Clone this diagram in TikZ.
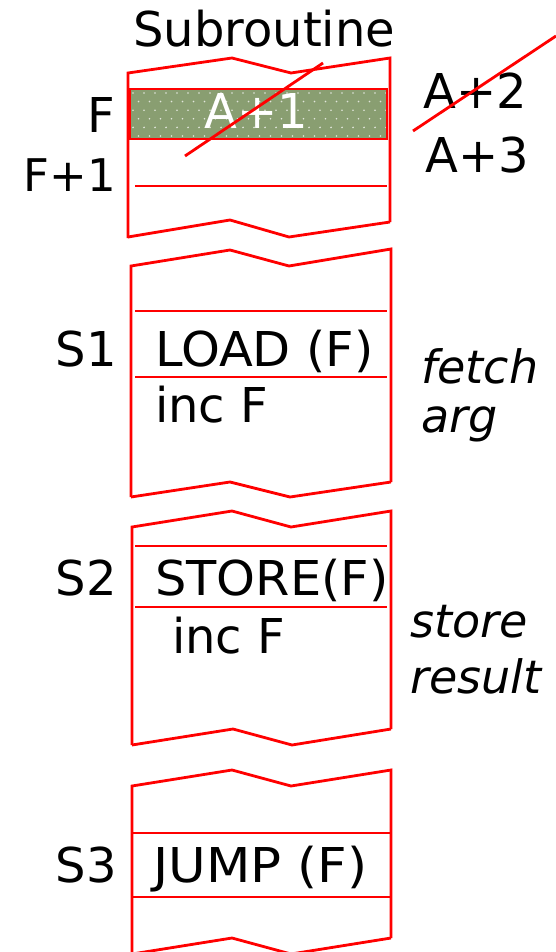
\documentclass[tikz,border=0pt]{standalone}
\usepackage{fontspec}
\setmainfont{DejaVu Sans}
\begin{document}
\begin{tikzpicture}[x=1pt,y=-1pt,
  redline/.style={draw=red,line width=2.8pt,line join=miter},
  txt/.style={inner sep=0pt,font=\fontsize{48}{57}\selectfont},
  wtxt/.style={inner sep=0pt,font=\fontsize{48}{57}\selectfont,xscale=1.03},
  itxt/.style={inner sep=0pt,font=\fontsize{46}{55}\selectfont\itshape}]
\definecolor{olive}{RGB}{137,158,113}
\useasboundingbox (0,0) rectangle (556,952);
% title
\node[txt,anchor=base west] (title) at (133,47) {Subroutine};
% block 1
\fill[olive] (130,89) rectangle (387,139);
\begin{scope}
\clip (130,89) rectangle (387,139);
\foreach \i in {0,...,24}{
  \foreach \j in {0,...,5}{
    \pgfmathsetmacro{\xx}{133+\i*11+mod(\j,2)*5.5}
    \pgfmathsetmacro{\yy}{93+\j*8.6}
    \fill[white,opacity=0.75] (\xx,\yy) circle (0.9);
  }
}
\end{scope}
\draw[redline] (130,89) rectangle (387,139);
\node[txt,anchor=base,text=white] (a1) at (256,129) {A+1};
\draw[redline] (128,238) -- (128,73) -- (232,58) -- (291,73) -- (390,58) -- (390,222);
\draw[redline] (128,237) -- (230,220) -- (289,237) -- (390,222);
\draw[redline] (135,186) -- (387,186);
\node[txt,anchor=base east] (F) at (115,133) {F};
\node[inner sep=0pt,font=\fontsize{45}{54}\selectfont,anchor=base east] (F1) at (116,191) {F+1};
\node[txt,anchor=base west] (a2) at (423,109) {A+2};
\node[txt,anchor=base west] (a3) at (425,172) {A+3};
\draw[redline] (185,156) -- (323,63);
\draw[redline] (413,131) -- (556,36);
% block 2
\draw[redline] (131,497) -- (131,266) -- (230,250) -- (289,266) -- (391,249) -- (391,482);
\draw[redline] (131,497) -- (230,482) -- (290,497) -- (391,482);
\draw[redline] (135,311) -- (387,311);
\draw[redline] (135,377) -- (387,377);
\node[txt,anchor=base east] (s1) at (117,366) {S1};
\node[wtxt,anchor=base west] (load) at (155,366) {LOAD (F)};
\node[txt,anchor=base west] (inc1) at (155,422) {inc F};
\node[itxt,anchor=base west] (fetch) at (421,383) {fetch};
\node[itxt,anchor=base west] (arg) at (421,432) {arg};
% block 3
\draw[redline] (132,745) -- (132,527) -- (232,511) -- (291,527) -- (391,511) -- (391,729);
\draw[redline] (132,745) -- (233,729) -- (292,745) -- (391,729);
\draw[redline] (135,546) -- (387,546);
\draw[redline] (135,607) -- (387,607);
\node[txt,anchor=base east] (s2) at (117,595) {S2};
\node[wtxt,anchor=base west] (store) at (155,595) {STORE(F)};
\node[txt,anchor=base west] (inc2) at (172,653) {inc F};
\node[itxt,anchor=base west] (storet) at (410,637) {store};
\node[itxt,anchor=base west] (result) at (410,693) {result};
% block 4
\draw[redline] (132,960) -- (132,786) -- (232,770) -- (291,786) -- (391,770) -- (391,938);
\draw[redline] (132,954) -- (232,938) -- (291,954) -- (391,938);
\draw[redline] (132,833) -- (391,833);
\draw[redline] (132,897) -- (391,897);
\node[txt,anchor=base east] (s3) at (117,882) {S3};
\node[wtxt,xscale=1.04,anchor=base west] (jump) at (153,882) {JUMP (F)};
\end{tikzpicture}
\end{document}
